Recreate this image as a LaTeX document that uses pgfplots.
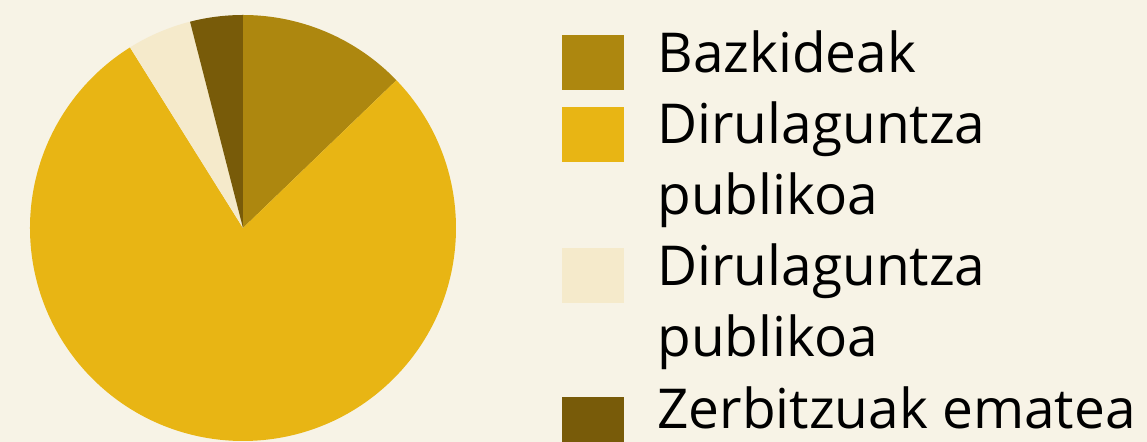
\documentclass[border=0pt]{standalone}
\usepackage{pgfplots}
\pgfplotsset{compat=1.18}
\usepackage{fontspec}
\setmainfont{Open Sans}
\definecolor{bgc}{HTML}{F7F3E6}
\definecolor{cA}{HTML}{AD870F}
\definecolor{cB}{HTML}{E8B514}
\definecolor{cC}{HTML}{F5EACB}
\definecolor{cD}{HTML}{785B09}
% shares (percent)
\def\vA{12.8}\def\vB{78.3}\def\vC{4.9}\def\vD{4.0}
\pgfmathsetmacro\sA{90}
\pgfmathsetmacro\eA{\sA-3.6*\vA}
\pgfmathsetmacro\eB{\eA-3.6*\vB}
\pgfmathsetmacro\eC{\eB-3.6*\vC}
\pgfmathsetmacro\eD{\eC-3.6*\vD}
\begin{document}
\begin{tikzpicture}
\begin{axis}[
  x=106.5pt, y=106.5pt,
  xmin=-1.1408, xmax=4.2441, ymin=-1.0047, ymax=1.0704,
  hide axis, clip=true,
  disabledatascaling,
]
\fill[bgc] (rel axis cs:0,0) rectangle (rel axis cs:1,1);
\fill[cA] (axis cs:0,0) -- (axis cs:{cos(\sA)},{sin(\sA)}) arc[start angle=\sA, end angle=\eA, radius=106.5pt] -- cycle;
\fill[cB] (axis cs:0,0) -- (axis cs:{cos(\eA)},{sin(\eA)}) arc[start angle=\eA, end angle=\eB, radius=106.5pt] -- cycle;
\fill[cC] (axis cs:0,0) -- (axis cs:{cos(\eB)},{sin(\eB)}) arc[start angle=\eB, end angle=\eC, radius=106.5pt] -- cycle;
\fill[cD] (axis cs:0,0) -- (axis cs:{cos(\eC)},{sin(\eC)}) arc[start angle=\eC, end angle=\eD, radius=106.5pt] -- cycle;
% legend
\fill[cA] (axis cs:1.4977,0.9061) rectangle (axis cs:1.7887,0.6479);
\fill[cB] (axis cs:1.4977,0.5681) rectangle (axis cs:1.7887,0.3099);
\fill[cC] (axis cs:1.4977,-0.0939) rectangle (axis cs:1.7887,-0.3521);
\fill[cD] (axis cs:1.4977,-0.7934) rectangle (axis cs:1.7887,-1.0516);
\begin{scope}[every node/.style={anchor=base west, inner sep=0pt, font=\fontsize{27.5}{32}\selectfont}]
\node at (axis cs:1.9437,0.7277) {Bazkideak};
\node at (axis cs:1.9437,0.3944) {Dirulaguntza};
\node at (axis cs:1.9437,0.0610) {publikoa};
\node at (axis cs:1.9437,-0.2723) {Dirulaguntza};
\node at (axis cs:1.9437,-0.6056) {publikoa};
\node at (axis cs:1.9437,-0.9390) {Zerbitzuak ematea};
\end{scope}
\end{axis}
\end{tikzpicture}
\end{document}
